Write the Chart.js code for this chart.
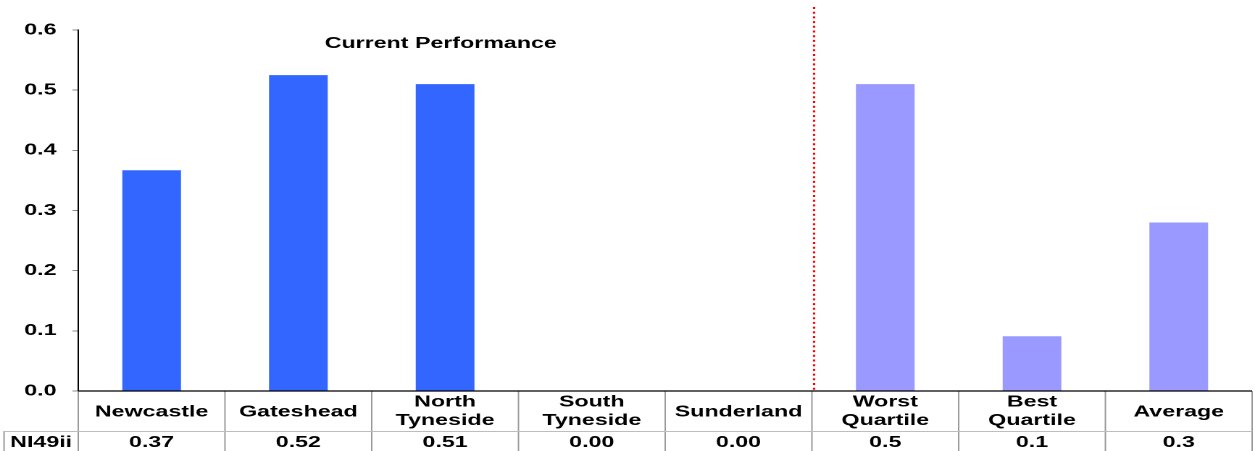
<!DOCTYPE html>
<html>
<head>
<meta charset="utf-8">
<script src="https://cdn.jsdelivr.net/npm/chart.js@4.4.1/dist/chart.umd.min.js"></script>
<style>
html, body { margin: 0; padding: 0; background: #fff; overflow: hidden; }
#wrap { width: 866px; height: 451px; transform: scaleX(1.4492); transform-origin: 0 0; }
</style>
</head>
<body>
<div id="wrap"><canvas id="perf"></canvas></div>
<script>
const categories = [['Newcastle'], ['Gateshead'], ['North', 'Tyneside'], ['South', 'Tyneside'], ['Sunderland'], ['Worst', 'Quartile'], ['Best', 'Quartile'], ['Average']];
const values = [0.367, 0.525, 0.51, 0, 0, 0.51, 0.091, 0.28];
const table_values = ['0.37', '0.52', '0.51', '0.00', '0.00', '0.5', '0.1', '0.3'];
const row_name = 'NI49ii';
const bar_colors = ['#3366FF', '#3366FF', '#3366FF', '#3366FF', '#3366FF', '#9999FF', '#9999FF', '#9999FF'];
const chart_title = 'Current Performance';

const FONT = 'bold 16px "Liberation Sans", Arial, sans-serif';

// data table under the bars + divider line + title
const tablePlugin = {
    id: 'tablePlugin',
    afterDraw(chart)
    {
        let ctx = chart.ctx;
        let xs = chart.scales.x;
        let area = chart.chartArea;
        let step = xs.getPixelForValue(1) - xs.getPixelForValue(0);
        let h = chart.height;

        ctx.save();

        // title
        ctx.font = FONT;
        ctx.fillStyle = '#000';
        ctx.textAlign = 'center';
        ctx.textBaseline = 'middle';
        ctx.fillText(chart_title, xs.getPixelForValue(2) - 3, 43.5);

        // red dotted divider
        let dx = xs.getPixelForValue(4.5) + 1.5;
        ctx.strokeStyle = '#ff0000';
        ctx.lineWidth = 1.6;
        ctx.setLineDash([2, 2.7]);
        ctx.beginPath();
        ctx.moveTo(dx, 7);
        ctx.lineTo(dx, area.bottom);
        ctx.stroke();
        ctx.setLineDash([]);

        // grid of the table
        ctx.strokeStyle = '#9a9a9a';
        ctx.lineWidth = 1;
        for(let i = 0; i <= categories.length; i++)
        {
            let bx = xs.getPixelForValue(i) - step / 2;
            ctx.beginPath();
            ctx.moveTo(bx, area.bottom);
            ctx.lineTo(bx, h);
            ctx.stroke();
        }
        ctx.beginPath();
        ctx.moveTo(2.8, 431);
        ctx.lineTo(2.8, h);
        ctx.stroke();

        ctx.strokeStyle = '#bdbdbd';
        ctx.beginPath();
        ctx.moveTo(2.8, 431.5);
        ctx.lineTo(area.right, 431.5);
        ctx.stroke();

        // x axis line
        ctx.strokeStyle = '#000';
        ctx.lineWidth = 1.3;
        ctx.beginPath();
        ctx.moveTo(area.left, area.bottom);
        ctx.lineTo(area.right, area.bottom);
        ctx.stroke();

        // labels and values
        ctx.fillStyle = '#000';
        for(let i = 0; i < categories.length; i++)
        {
            let cx = xs.getPixelForValue(i);
            let lines = categories[i];
            if(lines.length == 1)
            {
                ctx.fillText(lines[0], cx, 412);
            }
            else
            {
                ctx.fillText(lines[0], cx, 402);
                ctx.fillText(lines[1], cx, 420.5);
            }
            ctx.fillText(table_values[i], cx, 442.5);
        }
        ctx.fillText(row_name, (2.8 + area.left) / 2, 442.5);

        ctx.restore();
    }
};

new Chart(document.getElementById('perf'), {
    type: 'bar',
    data: {
        labels: categories.map(c => c.join(' ')),
        datasets: [{
            data: values,
            backgroundColor: bar_colors,
            borderWidth: 0,
            barPercentage: 0.4,
            categoryPercentage: 1
        }]
    },
    options: {
        responsive: true,
        maintainAspectRatio: false,
        animation: false,
        devicePixelRatio: 2,
        layout: {
            padding: { top: 30, right: 2, bottom: 60, left: 0 }
        },
        plugins: {
            legend: { display: false },
            tooltip: { enabled: false },
            title: { display: false }
        },
        scales: {
            x: {
                display: false
            },
            y: {
                min: 0,
                max: 0.6,
                afterFit: function(scale) { scale.width = 54; },
                border: { display: true, color: '#000', width: 1 },
                grid: { drawOnChartArea: false, tickLength: 4, color: '#888' },
                ticks: {
                    stepSize: 0.1,
                    padding: 11,
                    color: '#000',
                    font: { family: '"Liberation Sans", Arial, sans-serif', size: 16, weight: 'bold' },
                    callback: function(v) { return Number(v).toFixed(1); }
                }
            }
        }
    },
    plugins: [tablePlugin]
});
</script>
</body>
</html>
